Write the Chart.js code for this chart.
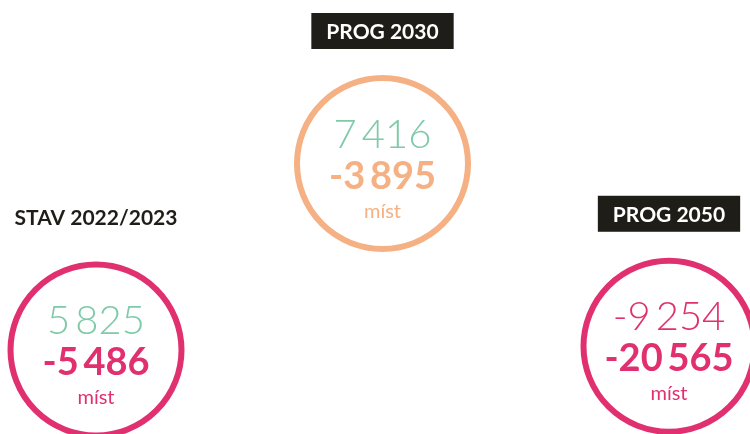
<!DOCTYPE html>
<html>
<head>
<meta charset="utf-8">
<script src="https://cdn.jsdelivr.net/npm/chart.js@4.4.1/dist/chart.umd.min.js"></script>
<style>
  html, body { margin: 0; padding: 0; background: #fff; }
  #wrap { width: 750px; height: 434px; }
</style>
</head>
<body>
<div id="wrap"><canvas id="chartMista"></canvas></div>
<script>
// data
const categories = ['STAV 2022/2023', 'PROG 2030', 'PROG 2050'];
const topValues = [5825, 7416, -9254];
const mainValues = [-5486, -3895, -20565];
const unitLabel = 'míst';

// layout (row level of each circle, not data)
const rows = [0, 1, 0.02];
const boxed = [false, true, true];

const PINK = '#e1306f';
const ORANGE = '#f5b083';
const GREEN = '#7fcaa9';
const ringColors = [PINK, ORANGE, PINK];
const FONT = 'Lato';

function fmt(v) {
    const s = Math.abs(v).toString().replace(/\B(?=(\d{3})+(?!\d))/g, '\u2009');
    return (v < 0 ? '-' : '') + s;
}

const textPlugin = {
    id: 'circleText',
    afterDatasetsDraw(chart) {
        const ctx = chart.ctx;
        const meta = chart.getDatasetMeta(0);
        ctx.save();
        ctx.textAlign = 'center';
        meta.data.forEach(function (pt, i) {
            const x = pt.x, y = pt.y, r = pt.options.radius;
            const col = ringColors[i];

            ctx.textBaseline = 'alphabetic';
            ctx.fillStyle = GREEN;
            ctx.font = '300 40px ' + FONT;
            if (topValues[i] < 0) ctx.fillStyle = col;
            ctx.fillText(fmt(topValues[i]), x, y - 16);

            ctx.fillStyle = col;
            ctx.font = 'bold 38px ' + FONT;
            ctx.fillText(fmt(mainValues[i]), x, y + 25);

            ctx.font = '20px ' + FONT;
            ctx.fillText(unitLabel, x, y + 54);

            // heading
            const hy = y - r - 47;
            ctx.font = 'bold 21px ' + FONT;
            ctx.textBaseline = 'middle';
            if (boxed[i]) {
                const w = ctx.measureText(categories[i]).width + 30;
                ctx.fillStyle = '#1e1d17';
                ctx.fillRect(x - w / 2, hy - 18, w, 36);
                ctx.fillStyle = '#ffffff';
            } else {
                ctx.fillStyle = '#1e1d17';
            }
            ctx.fillText(categories[i], x, hy + 1);
        });
        ctx.restore();
    }
};

const ctx = document.getElementById('chartMista').getContext('2d');
new Chart(ctx, {
    type: 'bubble',
    data: {
        labels: categories,
        datasets: [{
            data: categories.map(function (c, i) { return { x: c, y: rows[i], r: 85.5 }; }),
            backgroundColor: 'rgba(0,0,0,0)',
            borderColor: ringColors,
            borderWidth: 6,
            hoverBorderWidth: 6,
            clip: false
        }]
    },
    options: {
        responsive: true,
        maintainAspectRatio: false,
        animation: false,
        events: [],
        layout: { autoPadding: false, padding: { left: 96, right: 81, top: 163.5, bottom: 84 } },
        plugins: { legend: { display: false }, tooltip: { enabled: false } },
        scales: {
            x: { type: 'category', offset: false, display: false },
            y: { type: 'linear', min: 0, max: 1, display: false }
        }
    },
    plugins: [textPlugin]
});
</script>
</body>
</html>
